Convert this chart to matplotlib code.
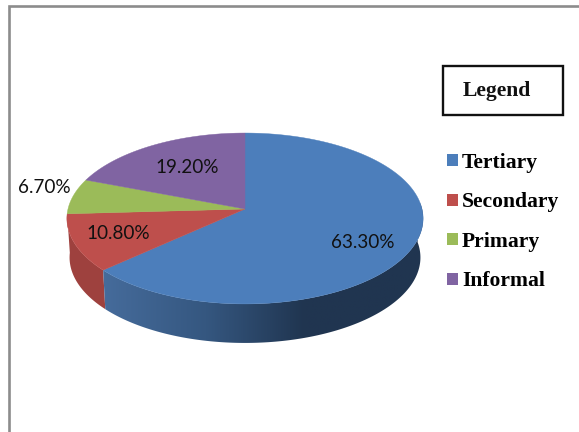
import matplotlib.pyplot as plt
import numpy as np
from matplotlib.colors import LinearSegmentedColormap
from matplotlib.patches import Patch, Polygon, Rectangle

categories = ["Tertiary", "Secondary", "Primary", "Informal"]
shares = [63.30, 10.80, 6.70, 19.20]
label_text = ["63.30%", "10.80%", "6.70%", "19.20%"]
colors = ["#4C7EBB", "#BE4F4C", "#9BBB59", "#8064A2"]

# pie geometry in pixels
CX, CY = 245, 209
RX, RY = 177, 84.4
PERSP = 0.111  # top of the disc is further away, so it looks smaller
DEPTH = 39


def project(theta, r=1.0, squeeze=1.0, drop=0.0):
    # theta in radians, clockwise from 12 o'clock
    u = r * np.sin(theta)
    v = -r * np.cos(theta)
    w = 1 - PERSP * v
    return np.c_[CX + squeeze * RX * u / w, CY + RY * v / w + drop]


def wall(t0, t1):
    steps = np.linspace(t0, t1, 200)
    return np.r_[project(steps), project(steps[::-1], squeeze=0.985, drop=DEPTH)]


fig = plt.figure(figsize=(5.79, 4.32), dpi=100)
ax = fig.add_axes([0, 0, 1, 1])

edges = np.deg2rad(np.r_[0, np.cumsum(shares)] / sum(shares) * 360)

### side wall: blue fades to dark through a clipped gradient
ax.add_patch(Polygon(wall(edges[1], edges[2]), closed=True, fc="#9E413E", ec="none", zorder=2))
blue_wall = Polygon(wall(np.deg2rad(86), edges[1]), closed=True, fc="none", ec="none")
ax.add_patch(blue_wall)
fade = LinearSegmentedColormap.from_list(
    "fade", [(0, "#466C9C"), (0.32, "#355780"), (0.62, "#203550"), (1, "#203550")]
)
grad = ax.imshow(np.linspace(0, 1, 256)[None, :], extent=(100, 430, 350, 200),
                 cmap=fade, aspect="auto", zorder=2.1)
grad.set_clip_path(blue_wall)

### top face
for t0, t1, c in zip(edges[:-1], edges[1:], colors):
    arc = project(np.linspace(t0, t1, 200))
    ax.add_patch(Polygon(np.r_[[[CX, CY]], arc], closed=True, fc=c, ec=c, lw=0.3, zorder=3))

### value labels, placed along each slice
label_r = [0.68, 0.72, 1.12, 0.62]
label_shift = [(4, 9), (-5, 0), (-8, -7), (1, -1)]
mids = (edges[:-1] + edges[1:]) / 2
for t, r, s, txt in zip(mids, label_r, label_shift, label_text):
    x, y = project(np.array([t]), r=r)[0]
    ax.text(x + s[0], y + s[1], txt, family="Lato", fontsize=13.6, color="#111111",
            ha="center", va="center", zorder=4)

### legend box and entries
ax.add_patch(Rectangle((442.5, 65.5), 120, 49, fc="white", ec="#111111", lw=1.7))
ax.text(497, 91, "Legend", family="Liberation Serif", weight="bold", fontsize=15.6,
        ha="center", va="center", color="#111111")

handles = [Patch(fc=c, ec=c, lw=0) for c in colors]
ax.legend(
    handles, categories, loc="upper left", bbox_to_anchor=(447, 153),
    bbox_transform=ax.transData, frameon=False, borderpad=0, borderaxespad=0,
    handlelength=0.5, handleheight=0.5, handletextpad=0.2, labelspacing=0.9,
    prop={"family": "Liberation Serif", "weight": "bold", "size": 15.6},
)

### frame of the pasted picture
ax.plot([9, 9, 579], [432, 5.5, 5.5], color="#8C8C8C", lw=1.9, zorder=1,
        solid_joinstyle="miter", clip_on=False)

ax.set_xlim(0, 579)
ax.set_ylim(432, 0)
ax.axis("off")

fig.savefig("out.png", dpi=100)
